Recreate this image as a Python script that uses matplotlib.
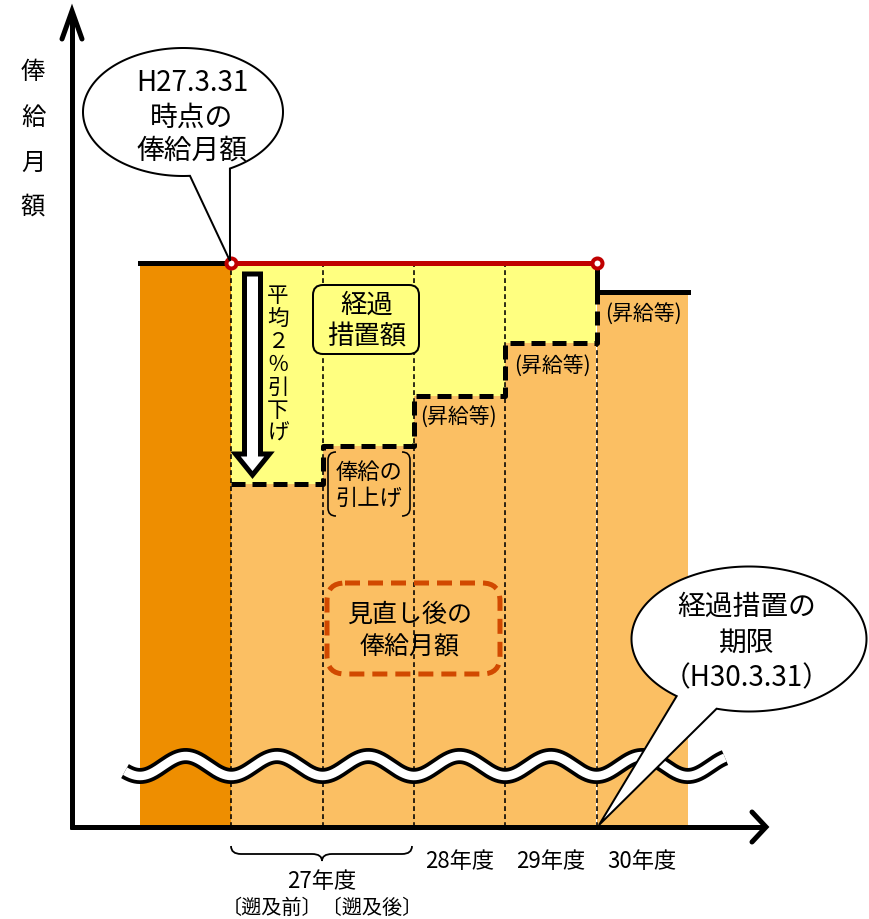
import numpy as np
import matplotlib.pyplot as plt
from matplotlib.patches import Polygon, FancyBboxPatch, PathPatch
from matplotlib.path import Path

plt.rcParams['font.family'] = ['Noto Sans CJK JP', 'DejaVu Sans']

# ---- data (salary level, H27.3.31 = 100; the drawing is not to scale) ----
old_level = 100.0                               # H27.3.31時点の俸給月額 / 経過措置額
new_levels = [60.8, 67.6, 76.4, 85.8, 94.9]     # 見直し後の俸給月額
period_names = ['遡及前', '遡及後', '28年度', '29年度', '30年度']
year_labels = ['28年度', '29年度', '30年度']
raise_labels = ['(昇給等)', '(昇給等)', '(昇給等)']
n_guarantee = 4                                 # periods under 経過措置 (until H30.3.31)

DARK = '#EE8E00'
LIGHT = '#FBBF63'
YELLOW = '#FFFF80'
RED = '#C00000'
BOXRED = '#D14900'

W, H = 870, 920
COL = 91.3      # px per period
X0 = 140        # px of first column
BASE = 828      # px of x axis
UNIT = 5.64     # px per level unit


def px(v):
    # pixels -> points at dpi 100
    return v * 0.72


fig = plt.figure(figsize=(W / 100, H / 100), dpi=100)

# data axes
ax = fig.add_axes([0, 0, 1, 1])
ax.set_xlim(-X0 / COL, (W - X0) / COL)
ax.set_ylim(-(H - BASE) / UNIT, BASE / UNIT)
ax.axis('off')

xs = np.arange(len(new_levels)) + 1.5
g = np.array(new_levels[:n_guarantee])
ax.bar(0.5, old_level, width=1, color=DARK, lw=0)
ax.bar(xs, new_levels, width=1, color=LIGHT, lw=0)
ax.bar(xs[:n_guarantee], old_level - g, bottom=g, width=1, color=YELLOW, lw=0)

# thin dividers
for i in range(1, len(new_levels) + 1):
    top = old_level if i <= n_guarantee else new_levels[n_guarantee - 1]
    ax.plot([i, i], [0, top], color='black', lw=px(1.6), ls=(0, (3, 2)), zorder=3)

# step of the revised salary
sx = np.repeat(np.arange(1, n_guarantee + 2), 2)[1:-1]
sy = np.repeat(g, 2)
sx = np.append(sx, n_guarantee + 1)
sy = np.append(sy, old_level)
ax.plot(sx, sy, color='black', lw=px(5), ls=(0, (2.8, 1.4)),
        dash_capstyle='butt', zorder=5)
last = len(new_levels)
ax.plot([last, last, last + 1], [old_level, new_levels[-1], new_levels[-1]],
        color='black', lw=px(5), solid_joinstyle='miter', zorder=5)
ax.plot([0, 1], [old_level, old_level], color='black', lw=px(5), zorder=5)

# guaranteed level
ax.plot([1, n_guarantee + 1], [old_level, old_level], color=RED, lw=px(5), zorder=6)
ax.plot([1, n_guarantee + 1], [old_level, old_level], 'o', ms=px(10), mfc='white',
        mec=RED, mew=px(4), zorder=7)

# year labels under the axis
for i, lab in enumerate(year_labels):
    ax.text(3.5 + i, (BASE - 862) / UNIT, lab, ha='center', va='center', fontsize=16)

# ---- overlay in pixel coordinates for the drawing parts ----
ov = fig.add_axes([0, 0, 1, 1])
ov.set_xlim(0, W)
ov.set_ylim(H, 0)
ov.axis('off')

# axes with open arrow heads
ov.plot([72, 72], [830, 14], 'k', lw=px(5), solid_capstyle='butt')
ov.plot([62, 72, 82], [40, 12, 40], 'k', lw=px(5), solid_joinstyle='miter',
        solid_capstyle='round')
ov.plot([70, 764], [828, 828], 'k', lw=px(5), solid_capstyle='butt')
ov.plot([752, 766, 752], [813, 828, 843], 'k', lw=px(5), solid_joinstyle='miter',
        solid_capstyle='round')

for ch, yy in zip('俸給月額', [72, 118, 163, 207]):
    ov.text(33, yy, ch, ha='center', va='center', fontsize=17.5)

# wave (axis break)
wx = np.linspace(125, 725, 800)
wy = 767 + 10 * np.cos(2 * np.pi * (wx - (X0 + COL)) / COL)
ov.plot(wx, wy, 'k', lw=px(16), solid_capstyle='butt', zorder=2)
ov.plot(wx, wy, 'w', lw=px(8.5), solid_capstyle='butt', zorder=2.1)


def callout(cx, cy, w, h, a_from, a_to, tip):
    t = np.radians(np.linspace(a_from, a_to, 300))
    pts = np.column_stack([cx + w / 2 * np.cos(t), cy + h / 2 * np.sin(t)])
    pts = np.vstack([pts, tip])
    ov.add_patch(Polygon(pts, closed=True, fc='white', ec='black', lw=px(2),
                         joinstyle='miter', zorder=10))


callout(183, 113, 200, 128, 86, 422, (230, 262))
for txt, yy in zip(['H27.3.31', '時点の', '俸給月額'], [83, 118, 150]):
    ov.text(192, yy, txt, ha='center', va='center', fontsize=20, zorder=11)

callout(749, 640, 235, 145, 128, 466, (599, 826))
for txt, yy in zip(['経過措置の', '期限', '（H30.3.31）'], [607, 643, 678]):
    ov.text(747, yy, txt, ha='center', va='center', fontsize=20, zorder=11)

# down arrow "平均2%引下げ"
arrow = [(244.5, 275), (260.5, 275), (260.5, 455), (269.5, 455), (252.5, 476),
         (235.5, 455), (244.5, 455)]
ov.add_patch(Polygon(arrow, closed=True, fc='white', ec='black', lw=px(5),
                     joinstyle='miter', zorder=8))
for k, ch in enumerate('平均２％引下げ'):
    ov.text(278, 296 + k * 23, ch, ha='center', va='center', fontsize=15.5, zorder=8)

# 経過措置額 box
ov.add_patch(FancyBboxPatch((313, 286), 106, 69, boxstyle='round,pad=0,rounding_size=10',
                            fc=YELLOW, ec='black', lw=px(2), zorder=8))
ov.text(367, 305, '経過', ha='center', va='center', fontsize=19, zorder=9)
ov.text(367, 337, '措置額', ha='center', va='center', fontsize=19, zorder=9)

# 俸給の引上げ brackets
for x_edge, d in [(328, 1), (410, -1)]:
    verts = [(x_edge + 8 * d, 453), (x_edge, 453), (x_edge, 461),
             (x_edge, 509), (x_edge, 517), (x_edge + 8 * d, 517)]
    codes = [Path.MOVETO, Path.CURVE3, Path.CURVE3, Path.LINETO, Path.CURVE3, Path.CURVE3]
    ov.add_patch(PathPatch(Path(verts, codes), fc='none', ec='black', lw=px(1.6), zorder=8))
ov.text(369, 472, '俸給の', ha='center', va='center', fontsize=16, zorder=9)
ov.text(369, 498, '引上げ', ha='center', va='center', fontsize=16, zorder=9)

# (昇給等)
for txt, (xx, yy) in zip(raise_labels, [(458, 418), (552, 367), (643, 315)]):
    ov.text(xx, yy, txt, ha='center', va='center', fontsize=15, zorder=9)

# 見直し後の俸給月額 box
box = FancyBboxPatch((327, 584), 173, 91, boxstyle='round,pad=0,rounding_size=18',
                     fc='none', ec=BOXRED, lw=px(5), zorder=8)
box.set_linestyle((0, (3, 1.6)))
ov.add_patch(box)
ov.text(410, 615, '見直し後の', ha='center', va='center', fontsize=18, zorder=9)
ov.text(410, 647, '俸給月額', ha='center', va='center', fontsize=18, zorder=9)

# brace for 27年度
verts = [(231, 847), (231, 855), (241, 855), (312, 855), (322, 855), (322, 862),
         (322, 855), (332, 855), (402, 855), (412, 855), (412, 847)]
codes = [Path.MOVETO, Path.CURVE3, Path.CURVE3, Path.LINETO, Path.CURVE3, Path.CURVE3,
         Path.CURVE3, Path.CURVE3, Path.LINETO, Path.CURVE3, Path.CURVE3]
ov.add_patch(PathPatch(Path(verts, codes), fc='none', ec='black', lw=px(1.8)))
ov.text(322, 882, '27年度', ha='center', va='center', fontsize=16)
ov.text(322, 908, '〔' + period_names[0] + '〕〔' + period_names[1] + '〕',
        ha='center', va='center', fontsize=14.5)

fig.savefig('out.png', dpi=100)
